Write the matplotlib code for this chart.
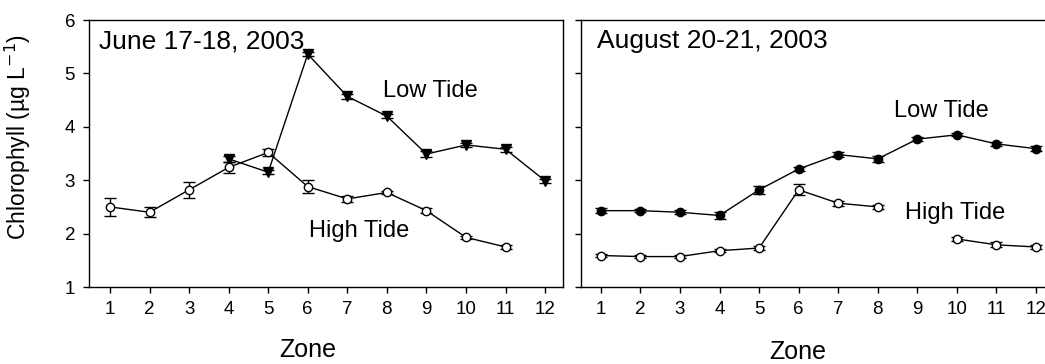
import numpy as np
import matplotlib
matplotlib.use('Agg')
import matplotlib.pyplot as plt

plt.rcParams['font.family'] = ['Liberation Sans', 'DejaVu Sans']

zones = np.arange(1, 13)

# June 17-18, 2003
june_high = [2.50, 2.40, 2.82, 3.24, 3.52, 2.88, 2.65, 2.77, 2.43, 1.93, 1.75, np.nan]
june_high_err = [0.17, 0.09, 0.15, 0.10, 0.06, 0.12, 0.05, 0.03, 0.05, 0.03, 0.03, np.nan]
june_low = [np.nan, np.nan, np.nan, 3.40, 3.15, 5.36, 4.57, 4.20, 3.49, 3.66, 3.58, 2.99]
june_low_err = [np.nan, np.nan, np.nan, 0.05, 0.04, 0.04, 0.04, 0.04, 0.05, 0.04, 0.05, 0.04]

# August 20-21, 2003
aug_high = [1.59, 1.57, 1.57, 1.68, 1.73, 2.82, 2.57, 2.50, np.nan, 1.90, 1.79, 1.75]
aug_high_err = [0.03, 0.03, 0.03, 0.03, 0.04, 0.10, 0.05, 0.03, np.nan, 0.04, 0.05, 0.03]
aug_low = [2.43, 2.43, 2.40, 2.34, 2.82, 3.21, 3.48, 3.40, 3.77, 3.85, 3.68, 3.59]
aug_low_err = [0.05, 0.03, 0.04, 0.06, 0.08, 0.03, 0.05, 0.06, 0.03, 0.03, 0.04, 0.05]

fig = plt.figure(figsize=(10.45, 3.64), dpi=100)
ax1 = fig.add_axes([0.0852, 0.2115, 0.4536, 0.7335])
ax2 = fig.add_axes([0.556, 0.2115, 0.4536, 0.7335])


def draw_series(ax, y, err, marker, face):
    ax.errorbar(zones, y, yerr=err, color='black', lw=1, elinewidth=1,
                capsize=4, capthick=1, marker=marker, markersize=6 if marker == 'o' else 7,
                markerfacecolor=face, markeredgecolor='black', markeredgewidth=1)


draw_series(ax1, june_low, june_low_err, 'v', 'black')
draw_series(ax1, june_high, june_high_err, 'o', 'white')
draw_series(ax2, aug_low, aug_low_err, 'o', 'black')
draw_series(ax2, aug_high, aug_high_err, 'o', 'white')

ax1.set_xlim(0.47, 12.455)
ax2.set_xlim(0.50, 12.48)

for ax in (ax1, ax2):
    ax.set_ylim(1, 6)
    ax.set_xticks(zones)
    ax.set_xticklabels([str(z) for z in zones], fontsize=13.5)
    ax.set_yticks([1, 2, 3, 4, 5, 6])
    ax.tick_params(direction='out', length=4.5, width=1, pad=5.5)
    for s in ax.spines.values():
        s.set_linewidth(1)
    ax.set_xlabel('Zone', fontsize=18)

ax1.set_yticklabels(['1', '2', '3', '4', '5', '6'], fontsize=13.5)
ax2.set_yticklabels([])
ax1.xaxis.set_label_coords(0.462, -0.19)
ax2.xaxis.set_label_coords(0.458, -0.20)

ax1.text(0.72, 5.47, 'June 17-18, 2003', fontsize=19)
ax2.text(0.91, 5.47, 'August 20-21, 2003', fontsize=19)
ax1.text(7.91, 4.56, 'Low Tide', fontsize=17)
ax1.text(6.04, 1.94, 'High Tide', fontsize=17)
ax2.text(8.40, 4.18, 'Low Tide', fontsize=17)
ax2.text(8.68, 2.27, 'High Tide', fontsize=17)

fig.text(17.5 / 1045, 1 - 137 / 364, 'Chlorophyll (µg L$^{-1}$)', rotation=90,
         ha='center', va='center', fontsize=16.5)

fig.savefig('out.png', dpi=100)
